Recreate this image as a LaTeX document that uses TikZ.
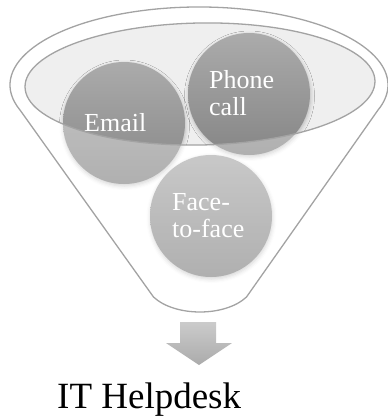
\documentclass[tikz,border=0pt]{standalone}
\usepackage{fontspec}
\setmainfont{Liberation Serif}
\usetikzlibrary{shadows.blur}
\definecolor{rimline}{HTML}{A3A3A3}
\definecolor{rimfill}{HTML}{EFEFEF}
\definecolor{ballTop}{HTML}{ABABAB}
\definecolor{ballBottom}{HTML}{868686}
\definecolor{arrowTop}{HTML}{CBCBCB}
\definecolor{arrowBottom}{HTML}{ABABAB}
\tikzset{
  rim/.style={draw=rimline, line width=1.3pt},
  ball/.style={circle, minimum size=122pt, inner sep=0pt,
    top color=ballTop, bottom color=ballBottom,
    blur shadow={shadow xshift=0.5pt, shadow yshift=-2pt,
      shadow blur radius=4pt, shadow opacity=25}},
  balltext/.style={text=white, font=\fontsize{26}{26.5}\selectfont,
    anchor=base west, inner sep=0pt, align=left},
  mouthtilt/.style={rotate around={1:(200,84)}},
}
% outline of the funnel: rounded rim on top, straight sides, shallow bottom
\newcommand\funnelbody{(20,110) arc[start angle=198.7, end angle=-18.7,
  x radius=189pt, y radius=78pt] -- (246.5,297)
  .. controls (225,317) and (175,317) .. (153.5,297) -- cycle}
\newcommand\mouth{(200,84) ellipse[x radius=175pt, y radius=61pt]}
\begin{document}
\begin{tikzpicture}[x=1pt, y=-1pt]
\useasboundingbox (0,0) rectangle (388,416);

% opening of the funnel
\path[fill=rimfill, mouthtilt] \mouth;

% the three channels
\node[ball] (email) at (124,123) {};
\node[ball] (phone) at (249,94) {};
\node[ball] (face) at (211,216) {};

% translucent funnel body over the balls, below the opening
\fill[white, fill opacity=0.35, even odd rule] \funnelbody {[mouthtilt] \mouth};

% outlines
\draw[rim] \funnelbody;
\draw[rim, mouthtilt] \mouth;

% labels (base anchor sits on the last line)
\node[balltext] (emailtext) at (84,131) {Email};
\node[balltext] (phonetext) at (209,115) {Phone\\call};
\node[balltext] (facetext) at (172,237) {Face-\\to-face};

% output arrow
\path[top color=arrowTop, bottom color=arrowBottom]
  (180,322) -- (216,322) -- (216,343) -- (232,343) -- (199,365)
  -- (166,343) -- (180,343) -- cycle;

\node[font=\fontsize{37}{40}\selectfont, anchor=base west, inner sep=0pt]
  (helpdesk) at (57,408) {IT Helpdesk};
\end{tikzpicture}
\end{document}
